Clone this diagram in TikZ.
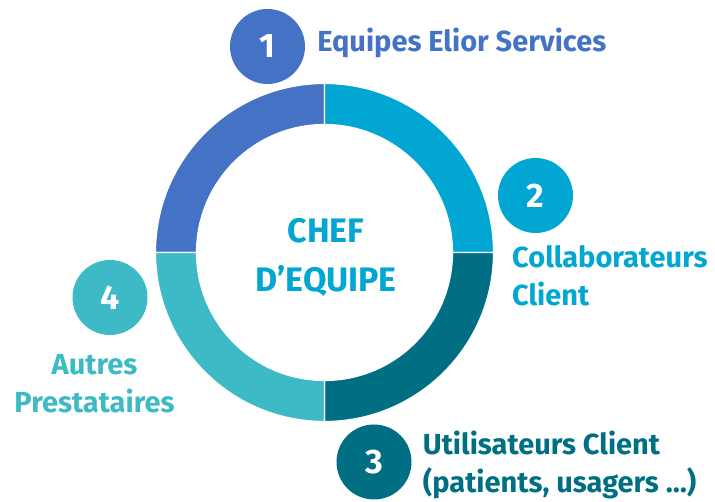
\documentclass[tikz,border=0pt]{standalone}
\usepackage{fontspec}
\setmainfont{Fira Sans}
\definecolor{ringblue}{HTML}{4472C4}
\definecolor{ringcyan}{HTML}{02A6D2}
\definecolor{ringteal}{HTML}{006F84}
\definecolor{ringaqua}{HTML}{3EBAC6}

\begin{document}
\begin{tikzpicture}[
    x=1pt, y=1pt,
    segment/.style={draw=white, line width=1.2pt},
    badge/.style={circle, minimum size=75pt, inner sep=0pt, text=white, font=\fontsize{34}{34}\selectfont\bfseries},
    caption/.style={inner sep=0pt, align=left, font=\fontsize{29}{38}\selectfont\bfseries},
    title/.style={inner sep=0pt, align=center, text=ringcyan, font=\fontsize{34}{49}\selectfont\bfseries}
]
\useasboundingbox (0,0) rectangle (715,502);

% -------------------------
% RING
% -------------------------
\coordinate (O) at (324.5,249.5);
\foreach \a/\c in {90/ringblue, 0/ringcyan, -90/ringteal, 180/ringaqua}
    \filldraw[segment, fill=\c] (O) ++(\a:169) arc[start angle=\a, end angle=\a+90, radius=169]
        -- ++(\a+90:-41) arc[start angle=\a+90, end angle=\a, radius=128] -- cycle;

\node[title, anchor=base] (chef) at (326,210.5) {CHEF\\D’EQUIPE};

% -------------------------
% NUMBERED BADGES
% -------------------------
\node[badge, fill=ringblue] (one) at (267.5,455.5) {1};
\node[badge, fill=ringcyan] (two) at (535.5,306.5) {2};
\node[badge, fill=ringteal] (three) at (374,40) {3};
\node[badge, fill=ringaqua] (four) at (110,204.5) {4};

% -------------------------
% LABELS (base = last line)
% -------------------------
\node[caption, text=ringblue, anchor=base west] (equipes) at ([shift={(12,-5.5)}]one.east) {Equipes Elior Services};
\node[caption, text=ringcyan, anchor=base west] (collab) at ([shift={(-23.5,-72)}]two.south) {Collaborateurs\\Client};
\node[caption, text=ringteal, anchor=base west] (usagers) at ([shift={(11,-31)}]three.east) {Utilisateurs Client\\(patients, usagers …)};
\node[caption, text=ringaqua, align=center, anchor=base] (autres) at ([shift={(-15.5,-77)}]four.south) {Autres\\Prestataires};

\end{tikzpicture}
\end{document}
